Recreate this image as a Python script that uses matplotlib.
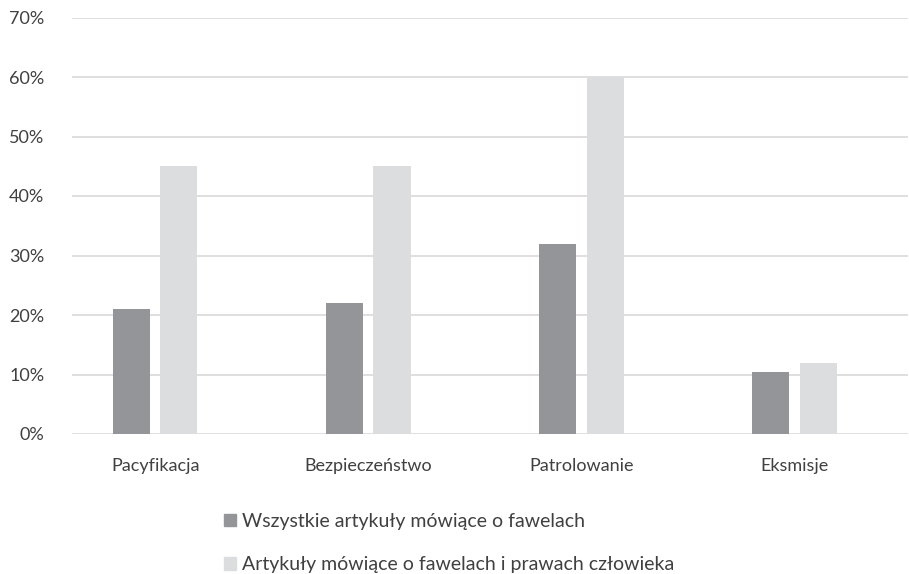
import matplotlib.pyplot as plt
import matplotlib.patches as mpatches
import numpy as np

categories = ['Pacyfikacja', 'Bezpieczeństwo', 'Patrolowanie', 'Eksmisje']
all_articles = [21, 22, 32, 10.5]
human_rights = [45, 45, 60, 12]
series_labels = ['Wszystkie artykuły mówiące o fawelach',
                 'Artykuły mówiące o fawelach i prawach człowieka']
yticks = [0, 10, 20, 30, 40, 50, 60, 70]

dark = '#939598'
light = '#dcddde'
text_col = '#404040'

plt.rcParams['font.family'] = ['Lato', 'DejaVu Sans']

fig = plt.figure(figsize=(9.09, 5.74), dpi=100)
ax = fig.add_axes([72 / 909, 140 / 574, 836 / 909, 416.5 / 574])

x = np.arange(len(categories))
w = 0.174
off = 0.111
ax.bar(x - off, all_articles, w, color=dark, zorder=3)
ax.bar(x + off, human_rights, w, color=light, zorder=3)

ax.set_xlim(-0.391, 3.533)
ax.set_ylim(0, 70)
ax.set_yticks(yticks)
ax.set_yticklabels([f'{t}%' for t in yticks])
ax.set_xticks(x)
ax.set_xticklabels(categories)
ax.grid(axis='y', color='#d9d9d9', linewidth=1.2, zorder=0)
ax.tick_params(axis='y', length=0, pad=20, labelsize=13, labelcolor=text_col)
ax.tick_params(axis='x', length=0, pad=17, labelsize=13, labelcolor=text_col)
for s in ax.spines.values():
    s.set_visible(False)

handles = [mpatches.Patch(color=dark), mpatches.Patch(color=light)]
fig.legend(handles, series_labels, loc='upper left',
           bbox_to_anchor=(224 / 909, 1 - 513 / 574), frameon=False,
           fontsize=14, labelcolor=text_col, handlelength=0.62,
           handleheight=0.62, handletextpad=0.3, labelspacing=1.36,
           borderpad=0, borderaxespad=0)

fig.savefig('out.png', dpi=100)
